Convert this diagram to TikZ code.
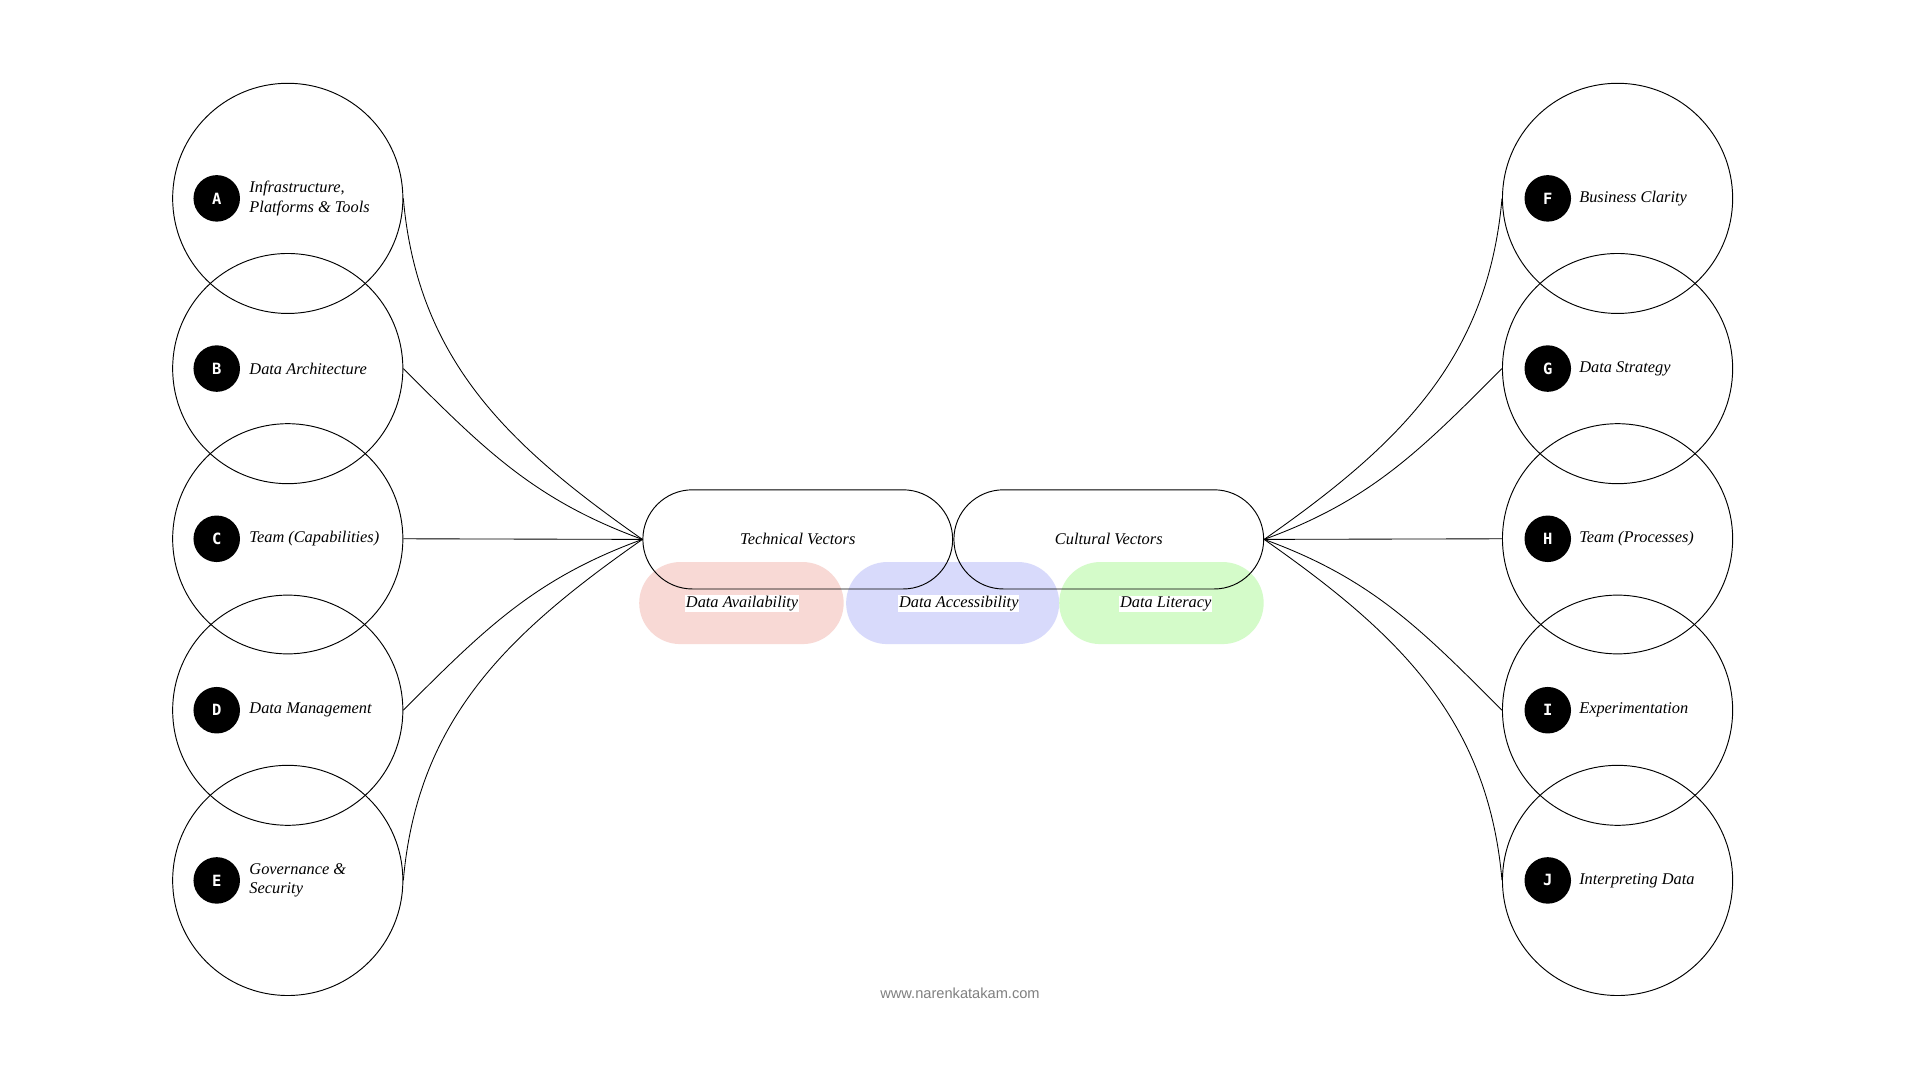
\documentclass[tikz,border=0pt]{standalone}
\usepackage{fontspec}
\setmainfont{Liberation Serif}
\newfontfamily\badgefont{DejaVu Sans Mono}
\newfontfamily\footfont{Liberation Sans}
\usetikzlibrary{shapes.misc}
\definecolor{pred}{HTML}{F8D9D5}
\definecolor{pblue}{HTML}{D8DAFB}
\definecolor{pgreen}{HTML}{D4FBC9}
\begin{document}
\begin{tikzpicture}[x=0.05cm,y=-0.05cm,line width=1.1pt,
  bigc/.style={draw,circle,minimum size=9.4cm,inner sep=0},
  badge/.style={circle,fill=black,text=white,minimum size=1.9cm,inner sep=0,font=\badgefont\bfseries\fontsize{18}{20}\selectfont},
  lbl/.style={anchor=west,align=left,font=\itshape\fontsize{19}{23}\selectfont},
  pill/.style={rounded rectangle,minimum height=3.35cm,inner sep=0},
  vec/.style={draw,rounded rectangle,minimum width=12.65cm,minimum height=4.05cm,inner sep=0,font=\itshape\fontsize{19}{23}\selectfont},
  plbl/.style={fill=white,inner sep=1pt,font=\itshape\fontsize{19}{23}\selectfont},
  conn/.style={line width=1pt}]
\fill[white] (0,0) rectangle (1568,882);
% left circles
\node[bigc] (A) at (235,162) {};
\node[bigc] (B) at (235,301) {};
\node[bigc] (C) at (235,440) {};
\node[bigc] (D) at (235,580) {};
\node[bigc] (E) at (235,719) {};
\node[bigc] (F) at (1321,162) {};
\node[bigc] (G) at (1321,301) {};
\node[bigc] (H) at (1321,440) {};
\node[bigc] (I) at (1321,580) {};
\node[bigc] (J) at (1321,719) {};
\node[badge] (bA) at (177,162) {A};
\node[badge] (bB) at (177,301) {B};
\node[badge] (bC) at (177,440) {C};
\node[badge] (bD) at (177,580) {D};
\node[badge] (bE) at (177,719) {E};
\node[badge] (bF) at (1264,162) {F};
\node[badge] (bG) at (1264,301) {G};
\node[badge] (bH) at (1264,440) {H};
\node[badge] (bI) at (1264,580) {I};
\node[badge] (bJ) at (1264,719) {J};
\node[lbl] (lA) at (201,162) {Infrastructure,\\Platforms \& Tools};
\node[lbl] (lB) at (201,301) {Data Architecture};
\node[lbl] (lC) at (201,440) {Team (Capabilities)};
\node[lbl] (lD) at (201,580) {Data Management};
\node[lbl] (lE) at (201,719) {Governance \&\\Security};
\node[lbl] (lF) at (1287,162) {Business Clarity};
\node[lbl] (lG) at (1287,301) {Data Strategy};
\node[lbl] (lH) at (1287,440) {Team (Processes)};
\node[lbl] (lI) at (1287,580) {Experimentation};
\node[lbl] (lJ) at (1287,719) {Interpreting Data};
% pills
\node[pill,fill=pred,minimum width=8.35cm] (p1) at (605.5,492.5) {};
\node[pill,fill=pblue,minimum width=8.7cm] (p2) at (778,492.5) {};
\node[pill,fill=pgreen,minimum width=8.35cm] (p3) at (948.5,492.5) {};
\node[plbl] at (606,493) {Data Availability};
\node[plbl] at (783,493) {Data Accessibility};
\node[plbl] at (952,493) {Data Literacy};
% vectors
\node[vec] (tech) at (651.5,440.5) {Technical Vectors};
\node[vec] (cult) at (905.5,440.5) {Cultural Vectors};
% connectors
\draw[conn] (A.east) to[out=-85,in=145] (tech.west);
\draw[conn] (B.east) to[out=-45,in=160] (tech.west);
\draw[conn] (C.east) -- (tech.west);
\draw[conn] (D.east) to[out=45,in=200] (tech.west);
\draw[conn] (E.east) to[out=85,in=215] (tech.west);
\draw[conn] (F.west) to[out=-95,in=35] (cult.east);
\draw[conn] (G.west) to[out=-135,in=20] (cult.east);
\draw[conn] (H.west) -- (cult.east);
\draw[conn] (I.west) to[out=135,in=-20] (cult.east);
\draw[conn] (J.west) to[out=95,in=-35] (cult.east);
\node[text=gray,font=\footfont\fontsize{17}{20}\selectfont] (foot) at (784,811) {www.narenkatakam.com};
\end{tikzpicture}
\end{document}
